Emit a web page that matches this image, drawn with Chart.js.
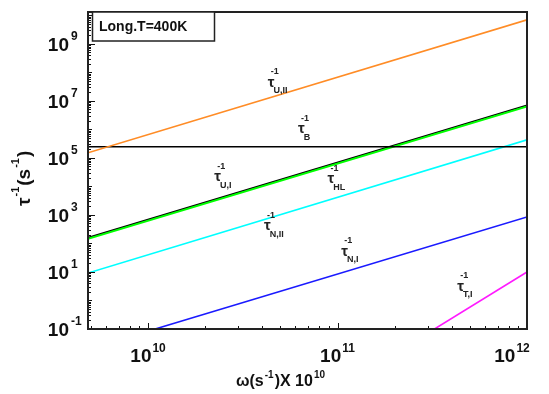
<!DOCTYPE html>
<html>
<head>
<meta charset="utf-8">
<script src="https://cdn.jsdelivr.net/npm/chart.js@4.4.1/dist/chart.umd.min.js"></script>
<style>
  html, body { margin: 0; padding: 0; background: #fff; }
  #wrap { width: 549px; height: 394px; }
</style>
</head>
<body>
<div id="wrap"><canvas id="canvas" width="549" height="394"></canvas></div>
<script>
// values (log-log, straight lines -> two end points each)
const omegaFull = [4.82e9, 1e12]
const tauUII = [1.5e5, 6.9e9]
const tauB = [2.45e5, 2.45e5]
const tauHL = [1.45e2, 6.4e6]
const tauUI = [1.6e2, 7.0e6]
const tauNII = [9.2, 4.3e5]
const omegaNI = [1.09e10, 1e12]
const tauNI = [0.1, 8.5e2]
const omegaTI = [3.25e11, 1e12]
const tauTI = [0.1, 10]

const xTickExp = [10, 11, 12]
const yTickExp = [-1, 1, 3, 5, 7, 9]

// curve labels: [sub text, omega, tau]
const curveLabels = [
  ['U,II', 4.5e10, 4.4e7],
  ['B', 6.5e10, 1.0e6],
  ['U,I', 2.35e10, 2.1e4],
  ['HL', 9.3e10, 1.8e4],
  ['N,II', 4.3e10, 4.0e2],
  ['N,I', 1.1e11, 52],
  ['T,I', 4.5e11, 3.1],
]

const pts = (xs, ys) => xs.map((x, i) => ({ x: x, y: ys[i] }))
const FONT = '"Liberation Sans", Arial, sans-serif'

const series = [
  { label: 'U,II', color: '#ff8c26', data: pts(omegaFull, tauUII), w: 1.6 },
  { label: 'B', color: '#000000', data: pts(omegaFull, tauB), w: 1.6 },
  { label: 'HL', color: '#00ff00', data: pts(omegaFull, tauHL), w: 2 },
  { label: 'U,I', color: '#000000', data: pts(omegaFull, tauUI), w: 1.6 },
  { label: 'N,II', color: '#00ffff', data: pts(omegaFull, tauNII), w: 1.6 },
  { label: 'N,I', color: '#1a1aff', data: pts(omegaNI, tauNI), w: 1.6 },
  { label: 'T,I', color: '#ff1aff', data: pts(omegaTI, tauTI), w: 1.6 },
]

function sup(ctx, base, exp, x, y, baseSize, expSize, align) {
  ctx.font = 'bold ' + baseSize + 'px ' + FONT
  const bw = ctx.measureText(base).width
  ctx.font = 'bold ' + expSize + 'px ' + FONT
  const ew = ctx.measureText(exp).width
  let x0 = x
  if (align === 'right') x0 = x - bw
  if (align === 'center') x0 = x - (bw + ew + 1) / 2
  ctx.textAlign = 'left'
  ctx.textBaseline = 'middle'
  ctx.font = 'bold ' + baseSize + 'px ' + FONT
  ctx.fillText(base, x0, y)
  ctx.font = 'bold ' + expSize + 'px ' + FONT
  ctx.fillText(exp, x0 + bw + 1, y - baseSize * 0.45)
  return x0 + bw + 1 + ew
}

const decor = {
  id: 'decor',
  afterDraw(chart) {
    const ctx = chart.ctx
    const a = chart.chartArea
    const xs = chart.scales.x
    const ys = chart.scales.y
    ctx.save()
    ctx.fillStyle = '#111'
    ctx.strokeStyle = '#111'

    // inward tick marks on left and bottom
    ctx.lineWidth = 1
    ctx.beginPath()
    for (let e = -1; e <= 10; e++) {
      for (let m = 1; m <= 9; m++) {
        const v = m * Math.pow(10, e)
        if (v < ys.min || v > ys.max) continue
        const py = Math.round(ys.getPixelForValue(v)) + 0.5
        const len = m === 1 ? (e % 2 === 0 ? 4 : 7) : 3
        ctx.moveTo(a.left, py)
        ctx.lineTo(a.left + len, py)
      }
    }
    for (let e = 9; e <= 12; e++) {
      for (let m = 1; m <= 9; m++) {
        const v = m * Math.pow(10, e)
        if (v < xs.min || v > xs.max) continue
        const px = Math.round(xs.getPixelForValue(v)) + 0.5
        const len = m === 1 ? 6 : 3
        ctx.moveTo(px, a.bottom)
        ctx.lineTo(px, a.bottom - len)
      }
    }
    ctx.stroke()

    // frame
    ctx.lineWidth = 2
    ctx.strokeStyle = '#222'
    ctx.strokeRect(a.left, a.top, a.right - a.left, a.bottom - a.top)

    // tick labels
    ctx.fillStyle = '#111'
    yTickExp.forEach((e) => {
      const py = ys.getPixelForValue(Math.pow(10, e))
      ctx.font = 'bold 19px ' + FONT
      ctx.textAlign = 'right'
      ctx.textBaseline = 'middle'
      ctx.fillText('10', 69, py + 2)
      ctx.font = 'bold 12px ' + FONT
      ctx.textAlign = 'left'
      ctx.fillText(String(e), 71, py - 7)
    })
    xTickExp.forEach((e) => {
      let px = xs.getPixelForValue(Math.pow(10, e))
      if (px > 512) px = 512
      sup(ctx, '10', String(e), px, 357, 19, 12, 'center')
    })

    // axis titles
    ctx.font = 'bold 16px ' + FONT
    let x0 = 236
    ctx.textAlign = 'left'
    ctx.textBaseline = 'middle'
    ctx.fillText('ω(s', x0, 382)
    x0 += ctx.measureText('ω(s').width + 1
    ctx.font = 'bold 10px ' + FONT
    ctx.fillText('-1', x0, 375)
    x0 += ctx.measureText('-1').width + 1
    ctx.font = 'bold 16px ' + FONT
    ctx.fillText(')X 10', x0, 382)
    x0 += ctx.measureText(')X 10').width + 1
    ctx.font = 'bold 10px ' + FONT
    ctx.fillText('10', x0, 375)

    ctx.save()
    ctx.translate(25, 206)
    ctx.rotate(-Math.PI / 2)
    let t = 0
    ctx.font = 'bold 19px ' + FONT
    ctx.fillText('τ', t, 0)
    t += ctx.measureText('τ').width + 1
    ctx.font = 'bold 11px ' + FONT
    ctx.fillText('-1', t, -9)
    t += ctx.measureText('-1').width + 1
    ctx.font = 'bold 19px ' + FONT
    ctx.fillText('(s', t, 0)
    t += ctx.measureText('(s').width + 1
    ctx.font = 'bold 11px ' + FONT
    ctx.fillText('-1', t, -9)
    t += ctx.measureText('-1').width + 1
    ctx.font = 'bold 19px ' + FONT
    ctx.fillText(')', t, 0)
    ctx.restore()

    // legend-like box
    ctx.fillStyle = '#fff'
    ctx.fillRect(a.left + 4, a.top, 122, 29)
    ctx.lineWidth = 1.5
    ctx.strokeStyle = '#222'
    ctx.strokeRect(a.left + 4.5, a.top, 122, 29)
    ctx.fillStyle = '#111'
    ctx.font = 'bold 14px ' + FONT
    ctx.fillText('Long.T=400K', a.left + 11, a.top + 15)

    // curve labels
    curveLabels.forEach((c) => {
      const px = xs.getPixelForValue(c[1])
      const py = ys.getPixelForValue(c[2])
      ctx.fillStyle = '#222'
      ctx.textAlign = 'left'
      ctx.font = 'bold 15px ' + FONT
      ctx.fillText('τ', px - 4, py)
      const tw = ctx.measureText('τ').width
      ctx.font = 'bold 9px ' + FONT
      ctx.fillText('-1', px - 1, py - 11)
      ctx.fillText(c[0], px - 4 + tw - 1, py + 8)
    })
    ctx.restore()
  },
}

const chart = new Chart(document.getElementById('canvas'), {
  type: 'line',
  data: {
    datasets: series.map((s) => ({
      label: s.label,
      data: s.data,
      borderColor: s.color,
      backgroundColor: s.color,
      borderWidth: s.w,
      pointRadius: 0,
      fill: false,
      tension: 0,
    })),
  },
  options: {
    responsive: false,
    animation: false,
    devicePixelRatio: 1,
    layout: { padding: { left: 80, top: 12, right: 22, bottom: 57 } },
    plugins: { legend: { display: false }, tooltip: { enabled: false } },
    scales: {
      x: {
        type: 'logarithmic',
        min: 4.82e9,
        max: 1e12,
        ticks: { display: false },
        grid: { display: false },
        border: { display: false },
      },
      y: {
        type: 'logarithmic',
        min: 0.1,
        max: 1.3e10,
        ticks: { display: false },
        grid: { display: false },
        border: { display: false },
      },
    },
  },
  plugins: [decor],
})
</script>
</body>
</html>
